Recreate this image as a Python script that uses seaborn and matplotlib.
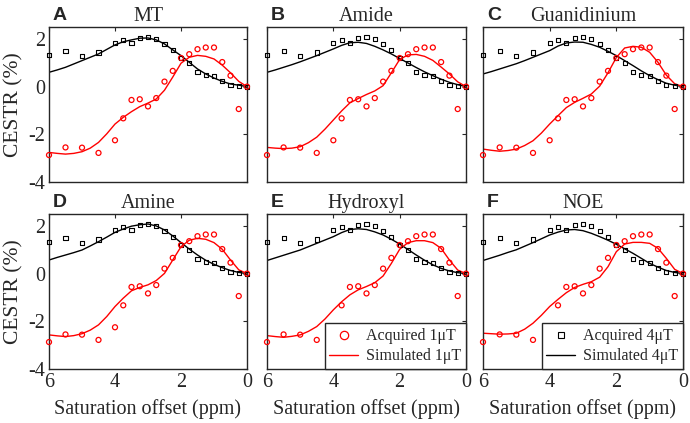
import numpy as np
import pandas as pd
import matplotlib
matplotlib.use('Agg')
import matplotlib.pyplot as plt
import seaborn as sns
from matplotlib.lines import Line2D

sns.set_style('white')
plt.rcParams['font.family'] = ['Liberation Serif', 'DejaVu Serif']
plt.rcParams['axes.unicode_minus'] = False

# offsets (ppm) of the acquired points
offsets = [6, 5.5, 5, 4.5, 4, 3.75, 3.5, 3.25, 3, 2.75, 2.5, 2.25, 2, 1.75, 1.5,
           1.25, 1, 0.75, 0.5, 0.25, 0]
acq_1uT = [-2.87, -2.55, -2.56, -2.78, -2.25, -1.33, -0.56, -0.53, -0.83, -0.48, 0.21,
           0.66, 1.20, 1.36, 1.57, 1.64, 1.64, 1.03, 0.46, -0.94, 0.0]
acq_4uT = [1.33, 1.48, 1.27, 1.43, 1.83, 1.94, 1.83, 2.03, 2.07, 1.99, 1.78,
           1.55, 1.20, 0.98, 0.60, 0.50, 0.43, 0.22, 0.08, 0.04, 0.0]

# offsets of the simulated curves
sim_offsets = [6, 5.75, 5.5, 5.25, 5, 4.75, 4.5, 4.25, 4, 3.75, 3.5, 3.25, 3, 2.75, 2.5,
               2.25, 2, 1.75, 1.5, 1.25, 1, 0.75, 0.5, 0.25, 0]

panels = ['A', 'B', 'C', 'D', 'E', 'F']
titles = ['MT', 'Amide', 'Guanidinium', 'Amine', 'Hydroxyl', 'NOE']

sim_4uT = {
    'A': [0.60, 0.70, 0.81, 0.95, 1.09, 1.23, 1.37, 1.56, 1.75, 1.88, 1.96, 2.03, 2.04,
          1.96, 1.79, 1.54, 1.30, 1.02, 0.74, 0.53, 0.36, 0.22, 0.11, 0.06, 0.0],
    'B': [0.60, 0.70, 0.81, 0.92, 1.04, 1.17, 1.30, 1.44, 1.58, 1.73, 1.84, 1.86, 1.81,
          1.69, 1.54, 1.37, 1.18, 0.99, 0.80, 0.62, 0.46, 0.31, 0.18, 0.08, 0.0],
    'C': [0.53, 0.63, 0.74, 0.85, 0.96, 1.09, 1.23, 1.37, 1.51, 1.70, 1.83, 1.87, 1.86,
          1.77, 1.65, 1.48, 1.30, 1.09, 0.88, 0.66, 0.46, 0.29, 0.14, 0.06, 0.0],
    'D': [0.57, 0.68, 0.78, 0.88, 0.99, 1.16, 1.34, 1.53, 1.73, 1.87, 1.99, 2.05, 2.08,
          2.00, 1.83, 1.58, 1.30, 1.03, 0.78, 0.56, 0.39, 0.25, 0.13, 0.05, 0.0],
    'E': [0.55, 0.66, 0.77, 0.88, 0.99, 1.13, 1.27, 1.41, 1.55, 1.72, 1.85, 1.88, 1.85,
          1.75, 1.62, 1.44, 1.24, 1.01, 0.78, 0.56, 0.37, 0.22, 0.11, 0.04, 0.0],
    'F': [0.55, 0.66, 0.77, 0.89, 1.00, 1.15, 1.30, 1.46, 1.62, 1.74, 1.83, 1.85, 1.80,
          1.69, 1.55, 1.40, 1.23, 1.04, 0.85, 0.64, 0.43, 0.27, 0.13, 0.05, 0.0],
}
sim_1uT = {
    'A': [-2.76, -2.80, -2.83, -2.80, -2.73, -2.58, -2.34, -1.98, -1.57, -1.29, -1.05, -0.84,
          -0.69, -0.52, -0.15, 0.40, 0.98, 1.23, 1.31, 1.27, 1.16, 0.90, 0.58, 0.22, 0.0],
    'B': [-2.55, -2.58, -2.60, -2.58, -2.52, -2.35, -2.12, -1.78, -1.40, -1.02, -0.68, -0.50,
          -0.33, -0.18, 0.04, 0.58, 1.14, 1.33, 1.35, 1.27, 1.10, 0.82, 0.53, 0.20, 0.0],
    'C': [-2.62, -2.67, -2.71, -2.68, -2.62, -2.47, -2.27, -1.95, -1.57, -1.22, -0.88, -0.66,
          -0.49, -0.31, 0.02, 0.58, 1.22, 1.62, 1.69, 1.65, 1.44, 1.02, 0.48, 0.12, 0.0],
    'D': [-2.57, -2.61, -2.64, -2.60, -2.52, -2.37, -2.15, -1.80, -1.38, -1.03, -0.72, -0.58,
          -0.47, -0.29, 0.01, 0.57, 1.13, 1.40, 1.48, 1.44, 1.30, 1.02, 0.57, 0.16, 0.0],
    'E': [-2.60, -2.64, -2.67, -2.63, -2.57, -2.42, -2.22, -1.90, -1.52, -1.18, -0.89, -0.68,
          -0.54, -0.38, -0.10, 0.43, 1.02, 1.30, 1.38, 1.38, 1.30, 1.06, 0.57, 0.15, 0.0],
    'F': [-2.50, -2.52, -2.54, -2.53, -2.50, -2.33, -2.08, -1.75, -1.38, -1.08, -0.80, -0.58,
          -0.45, -0.34, -0.15, 0.29, 0.92, 1.24, 1.31, 1.31, 1.27, 1.06, 0.64, 0.18, 0.0],
}

acq = pd.DataFrame({'offset': offsets, 'acq_1uT': acq_1uT, 'acq_4uT': acq_4uT})

fig = plt.figure(figsize=(6.9, 4.23), dpi=100)

lefts = [49, 267, 483]
widths = [198, 199, 200]
tops = [27, 214]
height = 155
W, H = 690, 423
spine_col = '#262626'

for i, key in enumerate(panels):
    row, col = divmod(i, 3)
    ax = fig.add_axes([lefts[col] / W, (H - tops[row] - height) / H,
                       widths[col] / W, height / H])
    sim = pd.DataFrame({'offset': sim_offsets, 'sim_1uT': sim_1uT[key],
                        'sim_4uT': sim_4uT[key]})

    sns.lineplot(data=sim, x='offset', y='sim_4uT', color='black', lw=1.0, ax=ax)
    sns.lineplot(data=sim, x='offset', y='sim_1uT', color='red', lw=1.0, ax=ax)
    sns.scatterplot(data=acq, x='offset', y='acq_4uT', marker='s', s=9,
                    facecolors='none', edgecolors='black', linewidths=0.8,
                    ax=ax, clip_on=False, zorder=3)
    sns.scatterplot(data=acq, x='offset', y='acq_1uT', marker='o', s=13,
                    facecolors='none', edgecolors='red', linewidths=0.9,
                    ax=ax, clip_on=False, zorder=3)

    ax.set_xlim(6, 0)
    ax.set_ylim(-4, 2.5)
    ax.set_xticks([6, 4, 2, 0])
    ax.set_yticks([-4, -2, 0, 2])
    ax.tick_params(direction='in', length=3, width=0.8, color=spine_col,
                   top=True, right=True, labelsize=14.5, pad=3)
    for sp in ax.spines.values():
        sp.set_color(spine_col)
        sp.set_linewidth(1.0)

    if row == 1:
        ax.set_xlabel('Saturation offset (ppm)', fontsize=14.5, labelpad=5)
    else:
        ax.set_xlabel('')
        ax.set_xticklabels([])
    if col == 0:
        ax.set_ylabel('CESTR (%)', fontsize=15.5, labelpad=3)
    else:
        ax.set_ylabel('')
        ax.set_yticklabels([])

    ax.set_title(titles[i], fontsize=14.5, pad=4)
    ax.text(0.02, 1.02, key, transform=ax.transAxes, fontsize=14, fontweight='bold',
            family='Liberation Sans', ha='left', va='bottom')

    if key == 'E':
        handles = [Line2D([], [], ls='none', marker='o', mfc='none', mec='red', ms=6, mew=0.9),
                   Line2D([], [], color='red', lw=1.0)]
        ax.legend(handles, ['Acquired 1\u03bcT', 'Simulated 1\u03bcT'], loc='lower right',
                  fontsize=11.5, frameon=True, fancybox=False, edgecolor=spine_col,
                  framealpha=1, borderaxespad=0, handlelength=1.8, handletextpad=0.5,
                  labelspacing=0.25, borderpad=0.3)
    if key == 'F':
        handles = [Line2D([], [], ls='none', marker='s', mfc='none', mec='black', ms=4.5, mew=0.8),
                   Line2D([], [], color='black', lw=1.0)]
        ax.legend(handles, ['Acquired 4\u03bcT', 'Simulated 4\u03bcT'], loc='lower right',
                  fontsize=11.5, frameon=True, fancybox=False, edgecolor=spine_col,
                  framealpha=1, borderaxespad=0, handlelength=1.8, handletextpad=0.5,
                  labelspacing=0.25, borderpad=0.3)

plt.savefig('out.png', dpi=100)
